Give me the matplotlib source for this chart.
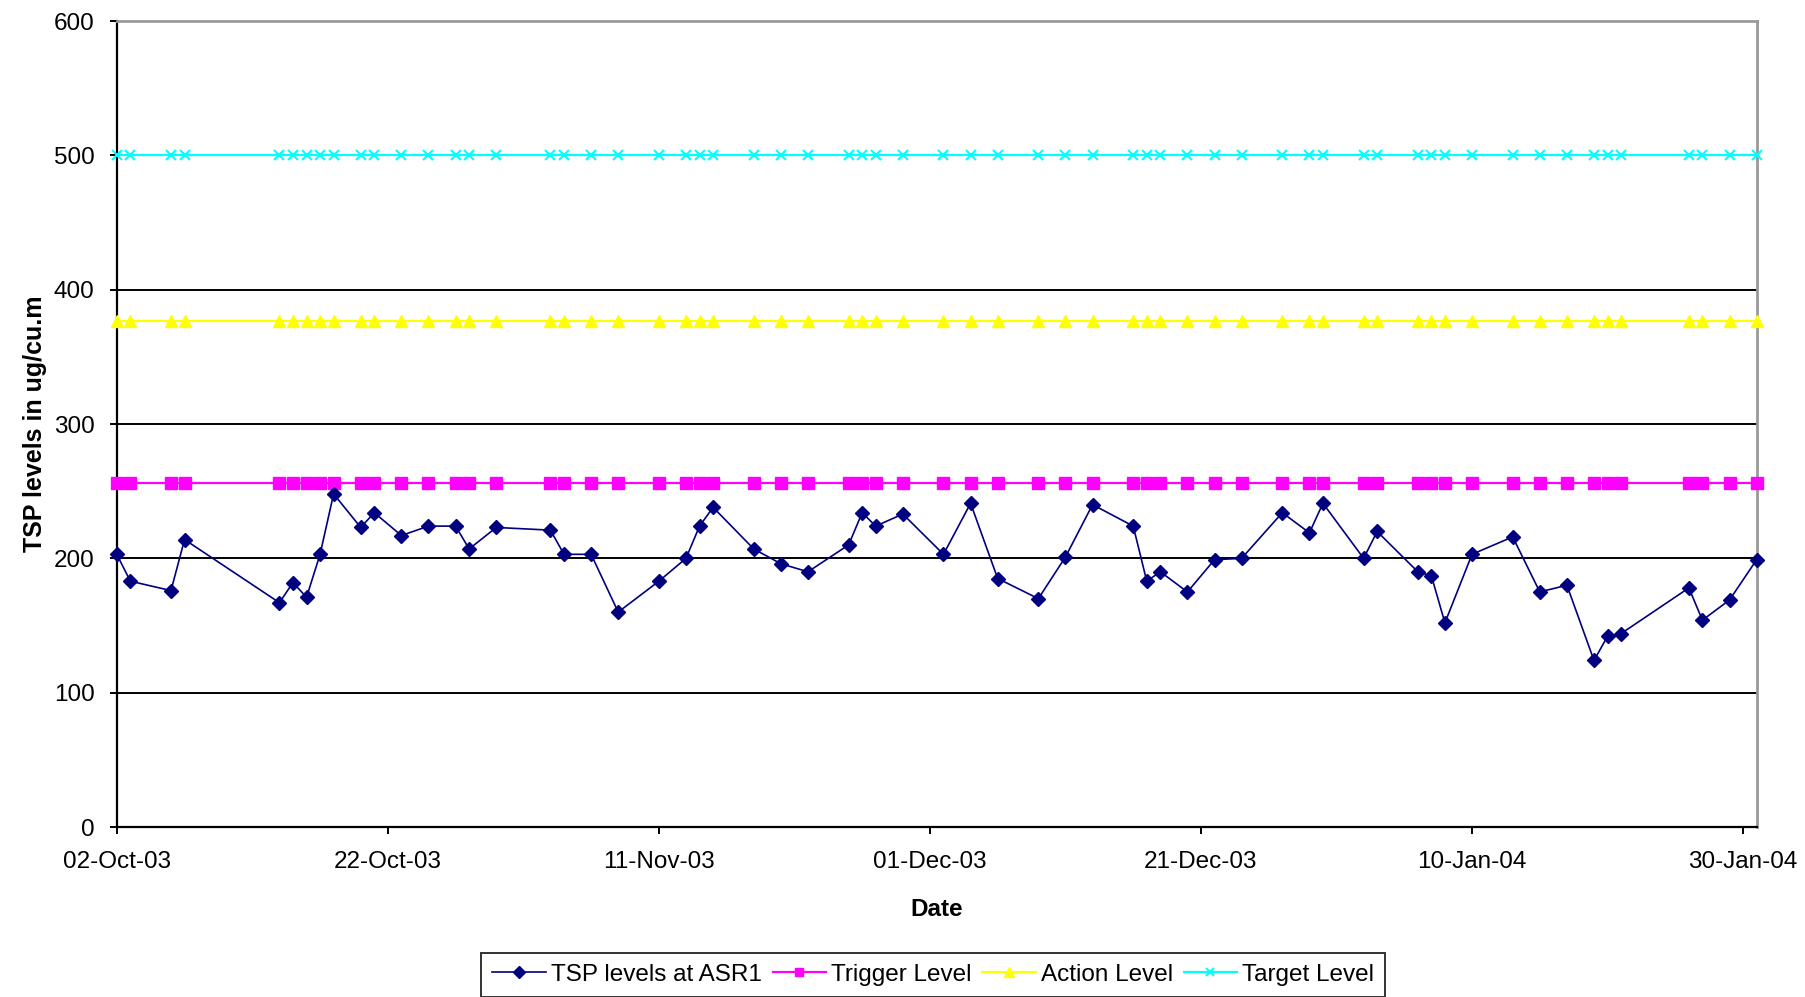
import matplotlib
matplotlib.use("Agg")
import matplotlib.pyplot as plt
import matplotlib.dates as mdates
import pandas as pd

# ---- data ----
dates = ["2003-10-02", "2003-10-03", "2003-10-06", "2003-10-07", "2003-10-14",
         "2003-10-15", "2003-10-16", "2003-10-17", "2003-10-18", "2003-10-20",
         "2003-10-21", "2003-10-23", "2003-10-25", "2003-10-27", "2003-10-28",
         "2003-10-30", "2003-11-03", "2003-11-04", "2003-11-06", "2003-11-08",
         "2003-11-11", "2003-11-13", "2003-11-14", "2003-11-15", "2003-11-18",
         "2003-11-20", "2003-11-22", "2003-11-25", "2003-11-26", "2003-11-27",
         "2003-11-29", "2003-12-02", "2003-12-04", "2003-12-06", "2003-12-09",
         "2003-12-11", "2003-12-13", "2003-12-16", "2003-12-17", "2003-12-18",
         "2003-12-20", "2003-12-22", "2003-12-24", "2003-12-27", "2003-12-29",
         "2003-12-30", "2004-01-02", "2004-01-03", "2004-01-06", "2004-01-07",
         "2004-01-08", "2004-01-10", "2004-01-13", "2004-01-15", "2004-01-17",
         "2004-01-19", "2004-01-20", "2004-01-21", "2004-01-26", "2004-01-27",
         "2004-01-29", "2004-01-31"]

tsp_asr1 = [203, 183, 176, 214, 167, 182, 171, 203, 248, 223,
            234, 217, 224, 224, 207, 223, 221, 203, 203, 160,
            183, 200, 224, 238, 207, 196, 190, 210, 234, 224,
            233, 203, 241, 185, 170, 201, 240, 224, 183, 190,
            175, 199, 200, 234, 219, 241, 200, 220, 190, 187,
            152, 203, 216, 175, 180, 124, 142, 144, 178, 154,
            169, 199]

trigger_level = 256
action_level = 377
target_level = 500

tick_dates = ["2003-10-02", "2003-10-22", "2003-11-11", "2003-12-01",
              "2003-12-21", "2004-01-10", "2004-01-30"]
y_ticks = [0, 100, 200, 300, 400, 500, 600]

series_labels = ["TSP levels at ASR1", "Trigger Level", "Action Level", "Target Level"]
x_label = "Date"
y_label = "TSP levels in ug/cu.m"

# ---- plot ----
plt.rcParams['font.family'] = ['Liberation Sans', 'DejaVu Sans']

x = pd.to_datetime(dates)
n = len(x)

fig = plt.figure(figsize=(18.05, 9.97), dpi=100)
ax = fig.add_axes([0.0647, 0.1705, 0.9085, 0.8084])

ax.plot(x, [target_level] * n, color="#00FFFF", lw=1.6, marker="x", ms=7,
        mew=1.5, label=series_labels[3], zorder=3, clip_on=False)
ax.plot(x, [action_level] * n, color="#FFFF00", lw=1.6, marker="^", ms=9,
        mec="#FFFF00", label=series_labels[2], zorder=3, clip_on=False)
ax.plot(x, [trigger_level] * n, color="#FF00FF", lw=1.6, marker="s", ms=8,
        mec="#FF00FF", label=series_labels[1], zorder=3, clip_on=False)
ax.plot(x, tsp_asr1, color="#000080", lw=1.2, marker="D", ms=7.5,
        mec="#000080", label=series_labels[0], zorder=4, clip_on=False)

ax.set_ylim(0, 600)
ax.set_yticks(y_ticks)
ax.set_xlim(pd.Timestamp("2003-10-02"), pd.Timestamp("2004-01-31"))
ax.set_xticks(pd.to_datetime(tick_dates))
ax.xaxis.set_major_formatter(mdates.DateFormatter("%d-%b-%y"))

for v in y_ticks[1:-1]:
    ax.axhline(v, color="black", lw=1.4, zorder=1)

for side in ["top", "right"]:
    ax.spines[side].set_color("#999999")
    ax.spines[side].set_linewidth(2)
for side in ["left", "bottom"]:
    ax.spines[side].set_color("black")
    ax.spines[side].set_linewidth(1.6)

ax.tick_params(axis="both", direction="out", length=5, width=1.4,
               labelsize=17.5, colors="black")
ax.tick_params(axis="y", pad=11)
ax.tick_params(axis="x", pad=12)

ax.set_xlabel(x_label, fontsize=17.5, fontweight="bold", labelpad=18)
ax.set_ylabel(y_label, fontsize=18, fontweight="bold", labelpad=5)

handles, labels = ax.get_legend_handles_labels()
order = [3, 2, 1, 0]
leg = fig.legend([handles[i] for i in order], [labels[i] for i in order],
                 loc="center", bbox_to_anchor=(0.517, 0.0225),
                 bbox_transform=fig.transFigure, ncol=4, fontsize=17.5,
                 frameon=True, fancybox=False, shadow=False,
                 handlelength=2.2, handletextpad=0.2, columnspacing=0.45,
                 borderpad=0.45, markerscale=0.8)
leg.get_frame().set_edgecolor("black")
leg.get_frame().set_linewidth(1.4)

fig.savefig("out.png", dpi=100)
